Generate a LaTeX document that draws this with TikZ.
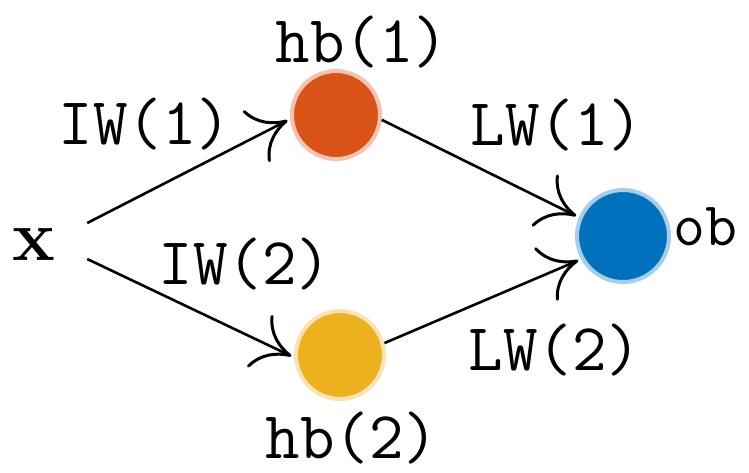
\documentclass[tikz,border=0pt]{standalone}
\usepackage{fontspec}
\usetikzlibrary{arrows.meta}
\definecolor{morange}{HTML}{D95319}
\definecolor{myellow}{HTML}{EDB120}
\definecolor{mblue}{HTML}{0072BD}
\tikzset{
  neuron/.style={circle, fill=#1, draw=#1!35, line width=4pt, minimum size=88pt, inner sep=0pt},
  lbl/.style={anchor=base, inner sep=0pt, font=\fontsize{67}{67}\selectfont\ttfamily},
  conn/.style={line width=2.6pt, -{Computer Modern Rightarrow[length=36pt,width=58pt,line width=3pt]}, shorten >=3pt},
}
\begin{document}
\begin{tikzpicture}[x=1pt,y=-1pt]
\useasboundingbox (0,0) rectangle (749,472);
\node[circle, minimum size=110pt, inner sep=0pt] (x) at (35,241) {};
\node[anchor=base, inner sep=0pt, font=\fontsize{72}{72}\selectfont\bfseries] (xl) at (34,260) {x};
\node[neuron=morange] (h1) at (336,115) {};
\node[neuron=myellow] (h2) at (340,355) {};
\node[neuron=mblue, minimum size=92pt] (ob) at (623,236) {};
\node[lbl] (th1) at (362,62) {hb(1)};
\node[lbl] (th2) at (352,458) {hb(2)};
\node[lbl, font=\fontsize{62}{62}\selectfont\ttfamily] (tob) at (705,245) {ob};
\node[lbl] (iw1) at (145,144) {IW(1)};
\node[lbl] (iw2) at (245,284) {IW(2)};
\node[lbl] (lw1) at (557,145) {LW(1)};
\node[lbl] (lw2) at (555,370) {LW(2)};
\draw[conn] (x.19) -- (h1.185);
\draw[conn] (x.-19) -- (h2.183);
\draw[conn] (h1.-6) -- (ob.157);
\draw[conn] (h2.15) -- (ob.209);
\end{tikzpicture}
\end{document}
